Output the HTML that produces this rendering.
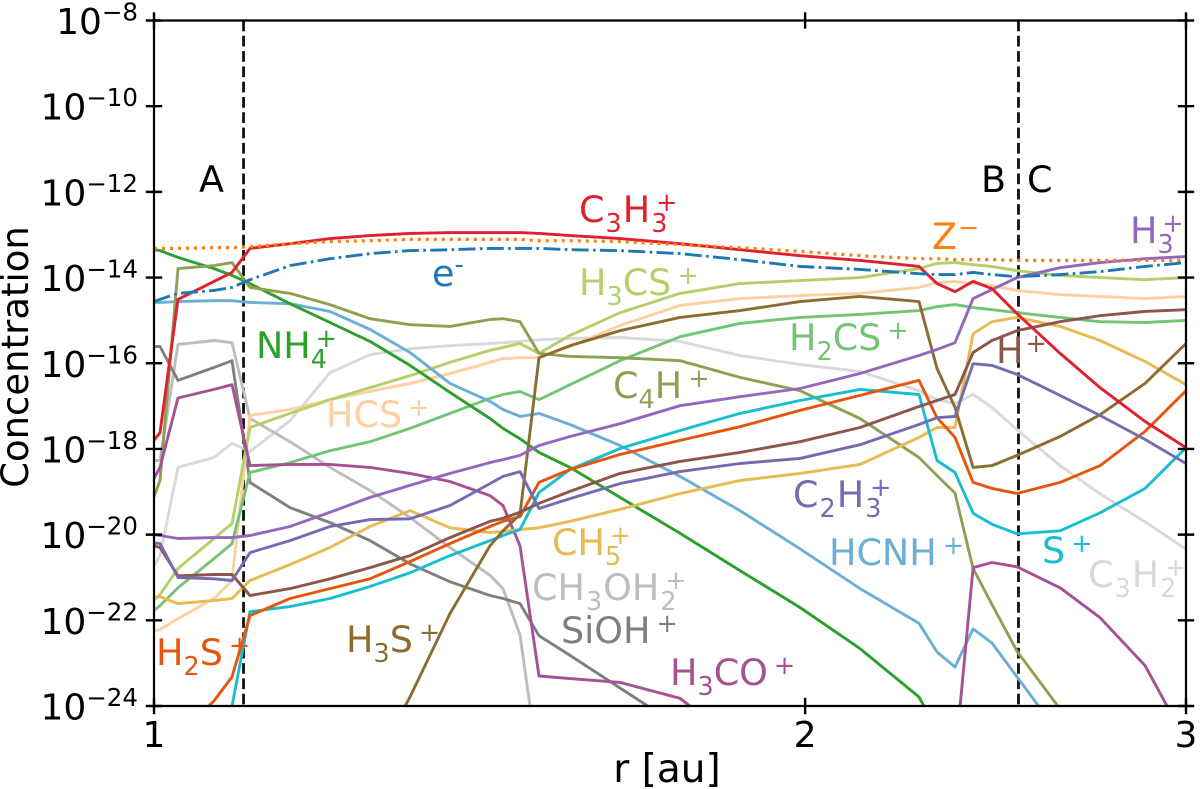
<!DOCTYPE html>
<html lang="en">
<head>
<meta charset="utf-8">
<title>Concentration vs radius</title>
<style>
html,body{margin:0;padding:0;background:#fff;overflow:hidden;}
svg{display:block;}
text{font-family:"DejaVu Sans","Liberation Sans",sans-serif;}
</style>
</head>
<body>
<svg id="chart" xmlns="http://www.w3.org/2000/svg" width="1200" height="789" viewBox="0 0 1200 789">
  <defs><clipPath id="plot-clip"><rect x="154" y="20.5" width="1032" height="685.5"/></clipPath></defs>
  <rect x="0" y="0" width="1200" height="789" fill="#fff"/>
  <g id="regions"></g>
  <g id="series" clip-path="url(#plot-clip)"></g>
  <g id="axes"></g>

  <text x="0" y="0" font-size="37" fill="#000" text-anchor="middle" transform="translate(28 357) rotate(-90)">Concentration</text>
  <text x="667" y="782" font-size="39" fill="#000" text-anchor="middle">r [au]</text>

  <g font-size="36.5" fill="#000">
    <text x="199" y="192">A</text>
    <text x="981" y="192">B</text>
    <text x="1027" y="192">C</text>
  </g>

  <g font-size="36.5">
    <text x="579" y="222" fill="#e0202f">C<tspan font-size="25.5" dx="1" dy="10">3</tspan><tspan dx="1" dy="-10">H</tspan><tspan font-size="25.5" dx="1" dy="10">3</tspan><tspan font-size="25.5" dx="-11.4" dy="-21">+</tspan></text>
    <text x="932" y="249" fill="#ff7f0e">Z<tspan font-size="25.5" dx="1" dy="-13">−</tspan></text>
    <text x="432" y="286" fill="#1f77b4">e<tspan font-size="25.5" dy="-13">-</tspan></text>
    <text x="1130" y="243" fill="#9467bd">H<tspan font-size="25.5" dy="10">3</tspan><tspan font-size="25.5" dx="-11.4" dy="-21">+</tspan></text>
    <text x="579" y="295" fill="#b5cf6b">H<tspan font-size="25.5" dy="10">3</tspan><tspan dy="-10">CS</tspan><tspan font-size="25.5" dx="6" dy="-11">+</tspan></text>
    <text x="256" y="358" fill="#2ca02c">NH<tspan font-size="25.5" dy="10">4</tspan><tspan font-size="25.5" dx="-11.4" dy="-21">+</tspan></text>
    <text x="789" y="350" fill="#74c476">H<tspan font-size="25.5" dy="10">2</tspan><tspan dy="-10">CS</tspan><tspan font-size="25.5" dx="6" dy="-11">+</tspan></text>
    <text x="996" y="363" fill="#8c564b">H<tspan font-size="25.5" dx="2" dy="-11">+</tspan></text>
    <text x="613" y="398" fill="#8ca252">C<tspan font-size="25.5" dy="10">4</tspan><tspan dy="-10">H</tspan><tspan font-size="25.5" dx="6" dy="-11">+</tspan></text>
    <text x="326" y="427" fill="#fdd0a2">HCS<tspan font-size="25.5" dx="6" dy="-11">+</tspan></text>
    <text x="793" y="507" fill="#756bb1">C<tspan font-size="25.5" dx="1" dy="10">2</tspan><tspan dx="1" dy="-10">H</tspan><tspan font-size="25.5" dx="1" dy="10">3</tspan><tspan font-size="25.5" dx="-11.4" dy="-21">+</tspan></text>
    <text x="552" y="555" fill="#e7ba52">CH<tspan font-size="25.5" dy="10">5</tspan><tspan font-size="25.5" dx="-11.4" dy="-21">+</tspan></text>
    <text x="829" y="565" fill="#6baed6">HCNH<tspan font-size="25.5" dx="6" dy="-11">+</tspan></text>
    <text x="1042" y="563" fill="#17becf">S<tspan font-size="25.5" dx="6" dy="-11">+</tspan></text>
    <text x="1088" y="587" fill="#d9d9d9">C<tspan font-size="25.5" dx="1" dy="10">3</tspan><tspan dx="1" dy="-10">H</tspan><tspan font-size="25.5" dx="1" dy="10">2</tspan><tspan font-size="25.5" dx="-11.4" dy="-21">+</tspan></text>
    <text x="532" y="600" fill="#bdbdbd">CH<tspan font-size="25.5" dx="1" dy="10">3</tspan><tspan dx="1" dy="-10">OH</tspan><tspan font-size="25.5" dx="1" dy="10">2</tspan><tspan font-size="25.5" dx="-11.4" dy="-21">+</tspan></text>
    <text x="561" y="643" fill="#7f7f7f">SiOH<tspan font-size="25.5" dx="6" dy="-11">+</tspan></text>
    <text x="670" y="685" fill="#a55194">H<tspan font-size="25.5" dy="10">3</tspan><tspan dy="-10">CO</tspan><tspan font-size="25.5" dx="6" dy="-11">+</tspan></text>
    <text x="156" y="665" fill="#e6550d">H<tspan font-size="25.5" dy="10">2</tspan><tspan dy="-10">S</tspan><tspan font-size="25.5" dx="6" dy="-11">+</tspan></text>
    <text x="346" y="652" fill="#8c6d31">H<tspan font-size="25.5" dy="10">3</tspan><tspan dy="-10">S</tspan><tspan font-size="25.5" dx="6" dy="-11">+</tspan></text>
  </g>
</svg>
<script>
// Radius grid in au
const rGrid = [1.0,1.0064,1.0259,1.066,1.0866,1.1076,1.1558,1.2061,1.2585,1.3133,1.3704,1.43,1.45,1.4764,1.5066,1.5572,1.6423,1.7506,1.866,1.9892,2.1203,2.2578,2.3015,2.3461,2.3915,2.4403,2.5061,2.6236,2.7377,2.8721,3.0];

// log10(concentration) for each species on rGrid (values below the axis floor are only rough)
const c3h3 = [-17.80,-17.62,-14.51,-14.09,-13.88,-13.32,-13.21,-13.09,-13.02,-12.97,-12.95,-12.95,-12.95,-12.95,-12.97,-13.02,-13.09,-13.21,-13.35,-13.49,-13.60,-13.74,-14.14,-14.33,-14.09,-14.26,-14.84,-15.77,-16.57,-17.36,-17.97];
const zMinus = [-13.32,-13.32,-13.32,-13.30,-13.30,-13.28,-13.21,-13.16,-13.14,-13.11,-13.11,-13.11,-13.11,-13.11,-13.14,-13.14,-13.16,-13.23,-13.30,-13.39,-13.49,-13.56,-13.56,-13.58,-13.58,-13.58,-13.60,-13.60,-13.60,-13.60,-13.60];
const electron = [-14.56,-14.51,-14.37,-14.30,-14.23,-14.05,-13.72,-13.56,-13.44,-13.37,-13.35,-13.32,-13.32,-13.32,-13.32,-13.35,-13.37,-13.44,-13.58,-13.74,-13.81,-13.91,-13.93,-13.93,-13.88,-13.93,-13.98,-13.93,-13.86,-13.74,-13.65];
const nh4 = [-13.35,-13.37,-13.53,-13.79,-13.95,-14.14,-14.61,-15.05,-15.49,-16.05,-16.68,-17.29,-17.52,-17.76,-18.08,-18.43,-19.13,-19.97,-20.84,-21.70,-22.66,-23.79,-24.56,-25.0,-25.5,-25.5,-25.5,-25.5,-25.5,-25.5,-25.5];
const c4h = [-19.12,-18.74,-13.79,-13.72,-13.65,-14.23,-14.37,-14.63,-14.96,-15.10,-15.14,-14.98,-14.96,-15.03,-15.77,-15.84,-15.87,-15.94,-16.33,-16.64,-17.29,-18.20,-18.62,-19.03,-20.79,-21.63,-22.72,-24.07,-25.49,-25.5,-25.5];
const hcnh = [-14.58,-14.58,-14.56,-14.54,-14.54,-14.58,-14.61,-14.79,-15.21,-15.75,-16.47,-16.89,-17.08,-17.24,-17.17,-17.43,-17.92,-18.64,-19.44,-20.33,-21.26,-22.07,-22.74,-23.09,-22.20,-22.53,-23.32,-24.68,-25.5,-25.5,-25.5];
const ch3oh2 = [-18.27,-18.27,-15.56,-15.47,-15.52,-17.29,-17.83,-18.43,-18.97,-19.60,-20.30,-20.95,-21.26,-22.34,-25.5,-25.5,-25.5,-25.5,-25.5,-25.5,-25.5,-25.5,-25.5,-25.5,-25.5,-25.5,-25.5,-25.5,-25.5,-25.5,-25.5];
const sioh = [-15.61,-15.61,-16.40,-16.10,-15.94,-18.78,-19.37,-19.72,-20.14,-20.68,-21.10,-21.42,-21.49,-21.61,-22.36,-22.82,-23.58,-24.49,-25.5,-25.5,-25.5,-25.5,-25.5,-25.5,-25.5,-25.5,-25.5,-25.5,-25.5,-25.5,-25.5];
const h3co = [-18.69,-18.43,-16.81,-16.61,-16.50,-18.39,-18.36,-18.36,-18.43,-18.57,-18.76,-19.09,-19.32,-20.26,-23.30,-23.36,-23.45,-23.82,-24.92,-25.5,-25.5,-25.5,-25.5,-25.27,-20.77,-20.65,-20.75,-21.24,-21.94,-23.06,-24.81];
const hcs = [-22.24,-22.22,-21.96,-21.49,-21.07,-17.22,-17.08,-16.85,-16.66,-16.47,-16.24,-15.98,-15.89,-15.87,-15.87,-15.61,-15.12,-14.65,-14.49,-14.42,-14.37,-14.23,-14.12,-14.09,-14.14,-14.19,-14.30,-14.40,-14.44,-14.49,-14.44];
const h3cs = [-21.54,-21.40,-20.79,-20.09,-19.74,-17.50,-17.17,-16.85,-16.57,-16.29,-15.98,-15.70,-15.63,-15.54,-15.77,-15.35,-14.82,-14.37,-14.14,-14.07,-14.00,-13.79,-13.67,-13.65,-13.70,-13.74,-13.84,-13.95,-14.00,-14.05,-14.00];
const h2cs = [-21.77,-21.66,-21.24,-20.56,-20.21,-18.55,-18.32,-18.04,-17.83,-17.52,-17.17,-16.82,-16.73,-16.66,-16.85,-16.50,-15.94,-15.38,-15.07,-14.93,-14.86,-14.77,-14.68,-14.63,-14.70,-14.75,-14.82,-14.93,-15.03,-15.05,-15.00];
const h3plus = [-20.00,-20.02,-20.09,-20.07,-20.07,-20.02,-19.81,-19.48,-19.13,-18.85,-18.57,-18.32,-18.25,-18.15,-17.92,-17.71,-17.41,-16.99,-16.78,-16.59,-16.24,-15.82,-15.68,-15.52,-14.49,-14.28,-14.00,-13.77,-13.65,-13.56,-13.51];
const c2h3 = [-20.19,-20.21,-21.00,-21.03,-21.07,-20.42,-20.14,-19.81,-19.65,-19.63,-19.32,-18.81,-18.64,-18.53,-19.39,-19.16,-18.81,-18.53,-18.34,-18.22,-17.90,-17.43,-17.27,-17.24,-16.01,-16.05,-16.26,-16.75,-17.22,-17.78,-18.34];
const hPlus = [-20.26,-20.30,-20.96,-20.93,-20.93,-21.42,-21.26,-21.03,-20.77,-20.49,-20.07,-19.69,-19.62,-19.48,-19.27,-18.99,-18.57,-18.29,-18.08,-17.83,-17.50,-17.01,-16.87,-16.73,-15.75,-15.47,-15.24,-15.03,-14.89,-14.79,-14.75];
const ch5 = [-21.45,-21.45,-21.61,-21.54,-21.49,-21.07,-20.70,-20.30,-19.81,-19.44,-19.84,-19.95,-19.93,-19.88,-19.84,-19.69,-19.41,-19.04,-18.74,-18.57,-18.36,-17.73,-17.50,-17.50,-15.31,-15.03,-14.93,-15.14,-15.47,-15.96,-16.50];
const h2s = [-25.5,-25.16,-24.70,-23.88,-23.32,-21.89,-21.49,-21.26,-21.03,-20.63,-20.21,-19.81,-19.69,-19.58,-18.78,-18.48,-18.13,-17.80,-17.48,-17.10,-16.75,-16.40,-17.27,-17.73,-18.78,-18.92,-19.04,-18.78,-18.39,-17.59,-16.64];
const sPlus = [-25.5,-25.5,-25.39,-24.56,-24.00,-21.80,-21.68,-21.49,-21.21,-20.89,-20.49,-20.14,-20.02,-19.88,-19.02,-18.48,-17.99,-17.57,-17.17,-16.87,-16.61,-16.73,-18.27,-18.55,-19.50,-19.76,-19.98,-19.91,-19.49,-18.92,-17.97];
const h3s = [-25.5,-25.5,-25.5,-25.5,-25.5,-25.5,-25.5,-25.5,-25.5,-23.79,-21.84,-20.26,-19.91,-19.53,-15.87,-15.59,-15.24,-14.93,-14.77,-14.56,-14.44,-14.56,-16.12,-17.03,-18.43,-18.39,-18.15,-17.71,-17.20,-16.47,-15.54];
const c3h2 = [-20.72,-20.49,-18.43,-18.20,-17.87,-18.06,-17.34,-16.22,-15.80,-15.66,-15.59,-15.54,-15.52,-15.49,-15.45,-15.42,-15.40,-15.49,-15.82,-16.03,-16.19,-16.64,-16.85,-16.94,-16.73,-17.03,-17.55,-18.39,-19.05,-19.70,-20.34];

// Axis ticks
const xTicks = [1, 2, 3];
const yTickExponents = [-8, -10, -12, -14, -16, -18, -20, -22, -24];
// Region boundaries in au
const regionBoundaries = [1.1, 2.51];

const X0 = 154, X1 = 1186, Y0 = 706, Y1 = 20.5;
const NS = 'http://www.w3.org/2000/svg';
function xScale(r) { return X0 + (X1 - X0) * Math.log(r) / Math.log(3); }
function yScale(e) { return Y0 - (Y0 - Y1) * (e + 24) / 16; }

const seriesList = [
  { name: 'c3h2-line', color: '#d9d9d9', values: c3h2 },
  { name: 'ch3oh2-line', color: '#bdbdbd', values: ch3oh2 },
  { name: 'sioh-line', color: '#7f7f7f', values: sioh },
  { name: 'hcs-line', color: '#fdd0a2', values: hcs },
  { name: 'h3cs-line', color: '#b5cf6b', values: h3cs },
  { name: 'h2cs-line', color: '#74c476', values: h2cs },
  { name: 'hcnh-line', color: '#6baed6', values: hcnh },
  { name: 'nh4-line', color: '#2ca02c', values: nh4 },
  { name: 'c4h-line', color: '#8ca252', values: c4h },
  { name: 'h3co-line', color: '#a55194', values: h3co },
  { name: 'ch5-line', color: '#e7ba52', values: ch5 },
  { name: 's-plus-line', color: '#17becf', values: sPlus },
  { name: 'h2s-line', color: '#e6550d', values: h2s },
  { name: 'h3s-line', color: '#8c6d31', values: h3s },
  { name: 'h-plus-line', color: '#8c564b', values: hPlus },
  { name: 'c2h3-line', color: '#756bb1', values: c2h3 },
  { name: 'h3-plus-line', color: '#9467bd', values: h3plus },
  { name: 'c3h3-line', color: '#e0202f', values: c3h3 },
  { name: 'z-minus-line', color: '#ff7f0e', values: zMinus, dash: '3 5' },
  { name: 'electron-line', color: '#1f77b4', values: electron, dash: '17 4.3 2.7 4.3' }
];

const regionsGroup = document.getElementById('regions');
regionBoundaries.forEach(function (r) {
  const line = document.createElementNS(NS, 'line');
  
  
  line.setAttribute('x1', xScale(r));
  line.setAttribute('x2', xScale(r));
  line.setAttribute('y1', Y1);
  line.setAttribute('y2', Y0);
  line.setAttribute('stroke', '#111');
  line.setAttribute('stroke-width', '2.8');
  line.setAttribute('stroke-dasharray', '10.7 4.6');
  regionsGroup.appendChild(line);
});

const seriesGroup = document.getElementById('series');
seriesList.forEach(function (s) {
  const pts = s.values.map(function (v, i) {
    return xScale(rGrid[i]).toFixed(1) + ',' + yScale(v).toFixed(1);
  }).join(' ');
  const line = document.createElementNS(NS, 'polyline');
  
  
  line.setAttribute('points', pts);
  line.setAttribute('fill', 'none');
  line.setAttribute('stroke', s.color);
  line.setAttribute('stroke-width', s.dash === '3 5' ? '3.2' : '2.9');
  line.setAttribute('stroke-linejoin', 'round');
  if (s.dash) line.setAttribute('stroke-dasharray', s.dash);
  seriesGroup.appendChild(line);
});

const axesGroup = document.getElementById('axes');
function addLine(group, name, x1, y1, x2, y2, w) {
  const l = document.createElementNS(NS, 'line');
  
  
  l.setAttribute('x1', x1);
  l.setAttribute('y1', y1);
  l.setAttribute('x2', x2);
  l.setAttribute('y2', y2);
  l.setAttribute('stroke', '#000');
  l.setAttribute('stroke-width', w);
  l.setAttribute('stroke-linecap', 'square');
  group.appendChild(l);
}
addLine(axesGroup, 'left-spine', X0, Y1, X0, Y0, 2.2);
addLine(axesGroup, 'right-spine', X1, Y1, X1, Y0, 2.2);
addLine(axesGroup, 'top-spine', X0, Y1, X1, Y1, 2.2);
addLine(axesGroup, 'bottom-spine', X0, Y0, X1, Y0, 2.2);

yTickExponents.forEach(function (e) {
  const y = yScale(e);
  addLine(axesGroup, 'y-tick-left', X0 - 7, y, X0 + 7, y, 2.4);
  addLine(axesGroup, 'y-tick-right', X1 - 7, y, X1 + 7, y, 2.4);
  const t = document.createElementNS(NS, 'text');
  
  
  t.setAttribute('x', 138);
  t.setAttribute('y', y + 13.5);
  t.setAttribute('text-anchor', 'end');
  t.setAttribute('font-size', '36');
  t.setAttribute('fill', '#000');
  const base = document.createElementNS(NS, 'tspan');
  base.textContent = '10';
  const exp = document.createElementNS(NS, 'tspan');
  exp.setAttribute('font-size', '24.5');
  exp.setAttribute('dy', '-13.5');
  exp.textContent = '\u2212' + Math.abs(e);
  t.appendChild(base);
  t.appendChild(exp);
  axesGroup.appendChild(t);
});

xTicks.forEach(function (r) {
  const x = xScale(r);
  addLine(axesGroup, 'x-tick-bottom', x, Y0 - 7, x, Y0 + 7, 2.4);
  addLine(axesGroup, 'x-tick-top', x, Y1 - 7, x, Y1 + 7, 2.4);
  const t = document.createElementNS(NS, 'text');
  
  
  t.setAttribute('x', x);
  t.setAttribute('y', 747);
  t.setAttribute('text-anchor', 'middle');
  t.setAttribute('font-size', '36');
  t.setAttribute('fill', '#000');
  t.textContent = String(r);
  axesGroup.appendChild(t);
});
</script>
</body>
</html>
